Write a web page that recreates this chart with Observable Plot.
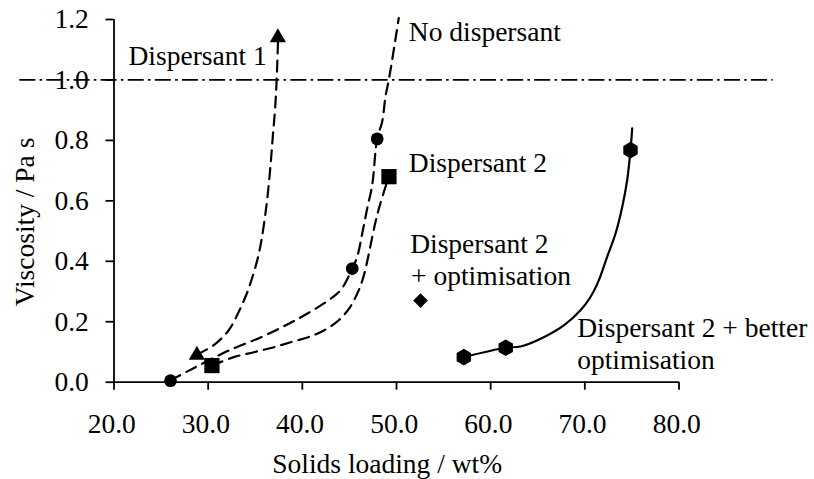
<!DOCTYPE html>
<html>
<head>
<meta charset="utf-8">
<script src="https://cdn.jsdelivr.net/npm/d3@7"></script>
<script src="https://cdn.jsdelivr.net/npm/@observablehq/plot@0.6"></script>
<style>
  html, body { margin: 0; padding: 0; background: white; }
  #chart { position: relative; width: 814px; height: 479px; }
  #chart svg { position: absolute; left: 0; top: 0; }
</style>
</head>
<body>
<div id="chart"></div>
<script>
// ---- axis ticks ----
const xTicks = [20, 30, 40, 50, 60, 70, 80];
const yTicks = [0, 0.2, 0.4, 0.6, 0.8, 1.0, 1.2];
const xTitle = "Solids loading / wt%";
const yTitle = "Viscosity / Pa s";

// ---- measured points (markers) ----
const noDispX = [26.0, 45.3, 47.95];
const noDispY = [0.005, 0.376, 0.805];
const disp1X = [28.8, 37.4];
const disp1Y = [0.09, 1.14];
const disp2X = [30.4, 49.2];
const disp2Y = [0.055, 0.68];
const disp2OptX = [52.55];
const disp2OptY = [0.27];
const disp2BetterX = [57.15, 61.6, 74.85];
const disp2BetterY = [0.083, 0.114, 0.768];

// ---- trend curves ----
const noDispCurveX = [26.0, 28.3, 32.0, 35.9, 39.45, 42.64, 44.05, 44.93, 45.3, 45.83, 46.36, 46.89, 47.42, 47.95, 48.48, 48.83, 49.18, 49.54, 50.24];
const noDispCurveY = [0.006, 0.044, 0.102, 0.153, 0.208, 0.268, 0.304, 0.351, 0.376, 0.415, 0.492, 0.575, 0.652, 0.807, 0.862, 0.945, 1.0, 1.066, 1.205];
const disp1CurveX = [28.835, 30.566, 32.16, 33.22, 34.07, 34.76, 35.29, 35.66, 36.09, 36.41, 36.67, 36.88, 37.10, 37.26, 37.44];
const disp1CurveY = [0.092, 0.122, 0.171, 0.231, 0.291, 0.354, 0.413, 0.470, 0.560, 0.646, 0.736, 0.819, 0.902, 0.991, 1.15];
const disp2CurveX = [30.43, 32.72, 34.95, 36.9, 38.85, 40.62, 42.28, 43.87, 45.04, 45.83, 46.39, 46.87, 47.29, 47.77, 48.30, 49.18];
const disp2CurveY = [0.055, 0.083, 0.1, 0.115, 0.133, 0.149, 0.171, 0.205, 0.247, 0.293, 0.338, 0.397, 0.460, 0.530, 0.593, 0.68];
const betterCurveX = [57.15, 61.57, 63.17, 65.64, 67.77, 69.54, 70.6, 71.48, 72.37, 73.26, 73.97, 74.5, 74.85, 75.03];
const betterCurveY = [0.083, 0.114, 0.118, 0.149, 0.188, 0.238, 0.282, 0.337, 0.415, 0.492, 0.58, 0.669, 0.768, 0.84];

// ---- limit line ----
const limitY = 1.0;
const limitX1 = 10;
const limitX2 = 90;

// ---- annotations (one line each) ----
const labelTexts = ["Dispersant 1", "No dispersant", "Dispersant 2", "Dispersant 2", "+ optimisation", "Dispersant 2 + better", "optimisation"];
const labelX = [21.54, 51.31, 51.31, 51.45, 51.55, 69.19, 69.19];
const labelY = [1.05, 1.128, 0.6965, 0.4269, 0.3207, 0.1493, 0.0444];

const zip = (xs, ys) => xs.map((x, i) => ({x, y: ys[i]}));

const FS = 27.5;
const FF = "Liberation Serif";
const dashed = {x: "x", y: "y", curve: "catmull-rom", stroke: "black", strokeWidth: 2.2, strokeDasharray: "11,7"};

const frame = {
  width: 814,
  height: 479,
  marginLeft: 113.5,
  marginRight: 135.5,
  marginTop: 19,
  marginBottom: 97.3
};

// Layer A: axis lines, ticks, curves and markers
const layerA = Plot.plot({
  ...frame,
  x: {domain: [20, 80]},
  y: {domain: [0, 1.2]},
  style: {fontSize: FS + "px", background: "white", color: "black", overflow: "visible"},
  marks: [
    Plot.axisX({ticks: xTicks, tickSize: 8, strokeWidth: 1.8, tickFormat: () => "", label: null}),
    Plot.axisY({ticks: yTicks, tickSize: 8, strokeWidth: 1.8, tickFormat: () => "", label: null}),
    Plot.ruleX([20], {y1: 0, y2: 1.2, strokeWidth: 1.8}),
    Plot.ruleY([0], {x1: 20, x2: 80, strokeWidth: 1.8}),
    Plot.line(zip(noDispCurveX, noDispCurveY), dashed),
    Plot.line(zip(disp1CurveX, disp1CurveY), dashed),
    Plot.line(zip(disp2CurveX, disp2CurveY), dashed),
    Plot.line(zip(betterCurveX, betterCurveY), {x: "x", y: "y", curve: "catmull-rom", stroke: "black", strokeWidth: 2.2}),
    Plot.dot(zip(noDispX, noDispY), {x: "x", y: "y", r: 6.4, fill: "black", stroke: "none"}),
    Plot.dot(zip(disp1X, disp1Y), {x: "x", y: "y", symbol: "triangle", r: 6, fill: "black", stroke: "none"}),
    Plot.dot(zip(disp2X, disp2Y), {x: "x", y: "y", symbol: "square", r: 8.6, fill: "black", stroke: "none"}),
    Plot.dot(zip(disp2OptX, disp2OptY), {x: "x", y: "y", symbol: "diamond2", r: 6.6, fill: "black", stroke: "none"}),
    Plot.dot(zip(disp2BetterX, disp2BetterY), {x: "x", y: "y", symbol: "hexagon", r: 7.2, fill: "black", stroke: "none"})
  ]
});

// Layer B: tick labels, annotations, x title
const layerB = Plot.plot({
  ...frame,
  x: {domain: [20, 80]},
  y: {domain: [0, 1.2]},
  style: {fontSize: FS + "px", background: "transparent", color: "black", overflow: "visible"},
  marks: [
    Plot.axisX({ticks: xTicks, tickSize: 0, tickPadding: 30.8, dx: -2.3, tickFormat: d => d.toFixed(1), fontSize: FS, fontFamily: FF, label: null}),
    Plot.axisY({ticks: yTicks, tickSize: 0, tickPadding: 25.2, tickFormat: d => d.toFixed(1), fontSize: FS, fontFamily: FF, label: null}),
    ...labelTexts.map((t, i) => Plot.text([t], {x: () => labelX[i], y: () => labelY[i], text: d => d, textAnchor: "start", lineAnchor: "bottom", fontSize: FS, fontFamily: FF})),
    Plot.text([xTitle], {text: d => d, frameAnchor: "bottom", textAnchor: "middle", dx: -9.3, dy: 90.8, lineAnchor: "bottom", fontSize: FS, fontFamily: FF})
  ]
});

// Layer C: limit line (over the 1.0 label) and rotated y title
const layerC = Plot.plot({
  ...frame,
  x: {domain: [20, 80], axis: null},
  y: {domain: [0, 1.2], axis: null},
  style: {fontSize: FS + "px", background: "transparent", color: "black", overflow: "visible"},
  marks: [
    Plot.ruleY([limitY], {x1: limitX1, x2: limitX2, strokeWidth: 1.7, strokeDasharray: "16,4.3,2.5,4.3"}),
    Plot.text([yTitle], {text: d => d, frameAnchor: "left", textAnchor: "middle", rotate: -90, dx: -80.2, dy: 21.1, lineAnchor: "bottom", fontSize: FS, fontFamily: FF})
  ]
});

const host = document.getElementById("chart");
host.appendChild(layerA);
host.appendChild(layerB);
host.appendChild(layerC);
</script>
</body>
</html>
